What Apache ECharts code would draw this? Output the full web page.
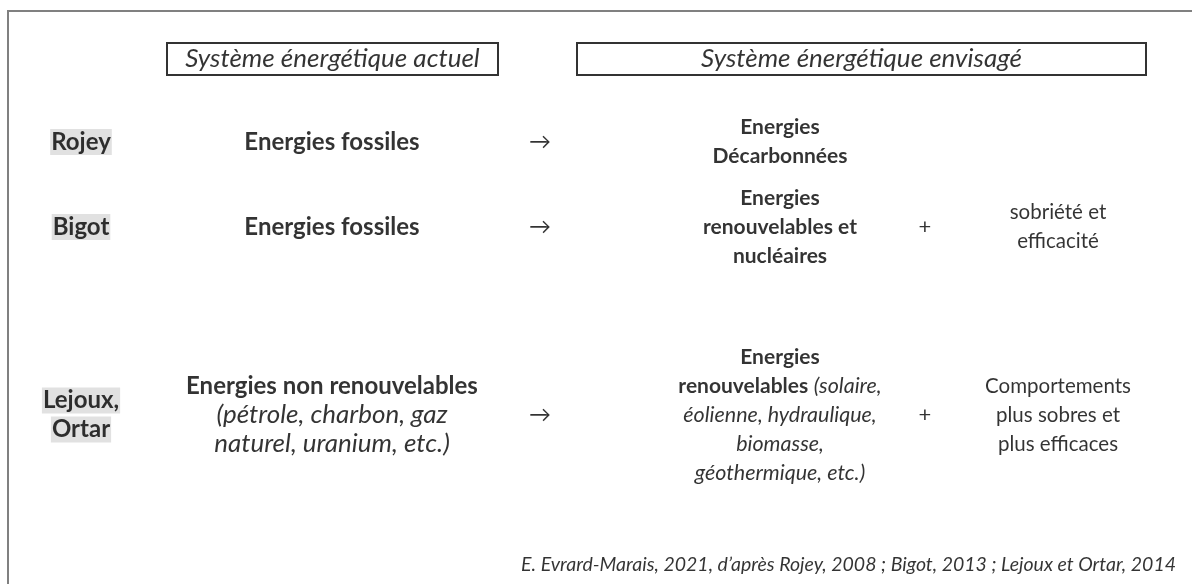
<!DOCTYPE html>
<html>
<head>
<meta charset="utf-8">
<script src="https://cdn.jsdelivr.net/npm/echarts@6/dist/echarts.min.js"></script>
<style>
  html, body { margin: 0; padding: 0; background: #fff; }
  #chart { width: 1192px; height: 584px; }
</style>
</head>
<body>
<div id="chart"></div>
<script>
// contenu du schéma
const headers = ['Système énergétique actuel', 'Système énergétique envisagé']
const authors = ['{a|Rojey}', '{a|Bigot}', '{a|Lejoux,}\n{a|Ortar}']
const currentSystem = [
  '{b|Energies fossiles}',
  '{b|Energies fossiles}',
  '{b|Energies non renouvelables}\n{i|(pétrole, charbon, gaz}\n{i|naturel, uranium, etc.)}'
]
const arrows = ['→', '→', '→']
const futureSystem = [
  '{b|Energies}\n{b|Décarbonnées}',
  '{b|Energies}\n{b|renouvelables et}\n{b|nucléaires}',
  '{b|Energies}\n{b|renouvelables} {i|(solaire,}\n{i|éolienne, hydraulique,}\n{i|biomasse,}\n{i|géothermique, etc.)}'
]
const plusSigns = ['', '+', '+']
const extras = ['', 'sobriété et\nefficacité', 'Comportements\nplus sobres et\nplus efficaces']
const source = 'E. Evrard-Marais, 2021, d’après Rojey, 2008 ; Bigot, 2013 ; Lejoux et Ortar, 2014'

// mise en page (coordonnées en pixels sur des axes cachés)
const colX = { author: 81, current: 332, arrow: 540, future: 780, plus: 925, extra: 1058 }
const rowY = [142, 227, 415]
const headerX = [332.5, 861.5]
const headerY = 59
const FONT = 'Lato'
const LH = 29

function makeRich(size, italicSize) {
  return {
    a: { fontFamily: FONT, fontSize: size, fontWeight: 'bold', color: '#000', backgroundColor: '#d9d9d9', padding: [1, 1, 1, 1], lineHeight: LH },
    b: { fontFamily: FONT, fontSize: size, fontWeight: 'bold', color: '#000', lineHeight: LH },
    i: { fontFamily: FONT, fontSize: italicSize, fontStyle: 'italic', color: '#000', lineHeight: LH }
  }
}

function textSeries(x, texts, size, italicSize) {
  return {
    type: 'scatter',
    symbolSize: 0,
    silent: true,
    data: texts.map((t, i) => ({ name: t, value: [x, rowY[i]] })),
    label: {
      show: true,
      position: 'inside',
      formatter: p => p.name,
      align: 'center',
      verticalAlign: 'middle',
      fontFamily: FONT,
      fontSize: size,
      lineHeight: LH,
      color: '#000',
      rich: makeRich(size, italicSize || size)
    }
  }
}

const chart = echarts.init(document.getElementById('chart'))
chart.setOption({
  animation: false,
  grid: { left: 0, right: 0, top: 0, bottom: 0 },
  xAxis: { type: 'value', min: 0, max: 1192, show: false },
  yAxis: { type: 'value', min: 0, max: 584, inverse: true, show: false },
  graphic: [{
    type: 'rect',
    shape: { x: 8, y: 11, width: 1400, height: 800 },
    style: { fill: 'none', stroke: '#808080', lineWidth: 2 }
  }],
  series: [
    // en-têtes encadrés
    {
      type: 'scatter',
      symbolSize: 0,
      silent: true,
      data: headers.map((h, i) => ({
        name: h,
        value: [headerX[i], headerY],
        label: { width: i === 0 ? 331 : 569 }
      })),
      label: {
        show: true,
        position: 'inside',
        formatter: p => p.name,
        fontFamily: FONT,
        fontSize: 26,
        fontStyle: 'italic',
        color: '#000',
        align: 'center',
        verticalAlign: 'middle',
        lineHeight: 28,
        padding: [2, 0, 2, 0],
        borderColor: '#000',
        borderWidth: 2
      }
    },
    textSeries(colX.author, authors, 24),
    textSeries(colX.current, currentSystem, 24, 26),
    textSeries(colX.arrow, arrows, 22),
    textSeries(colX.future, futureSystem, 21, 21.5),
    textSeries(colX.plus, plusSigns, 22),
    textSeries(colX.extra, extras, 20.5),
    // source
    {
      type: 'scatter',
      symbolSize: 0,
      silent: true,
      data: [{ name: source, value: [1176, 565] }],
      label: {
        show: true,
        position: 'inside',
        formatter: p => p.name,
        fontFamily: FONT,
        fontSize: 19.5,
        fontStyle: 'italic',
        color: '#000',
        align: 'right',
        verticalAlign: 'middle'
      }
    }
  ]
})
</script>
</body>
</html>
